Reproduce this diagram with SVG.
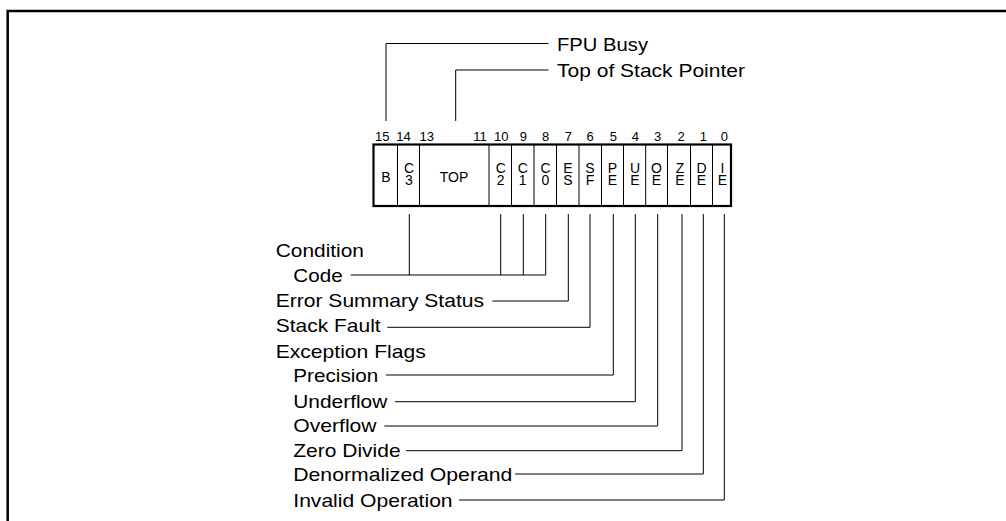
<svg xmlns="http://www.w3.org/2000/svg" width="1006" height="521" viewBox="0 0 1006 521">
<style>
text { font-family: "Liberation Sans", Arial, sans-serif; fill: #000; }
.lbl { font-size: 19px; }
.bit { font-size: 13px; text-anchor: middle; }
.cell { font-size: 14px; text-anchor: middle; }
.wire { fill: none; stroke: #000; stroke-width: 1; }
.div { stroke: #000; stroke-width: 1; }
</style>
<rect width="1006" height="521" fill="#fff"/>
<path d="M7.7,521 V11 H1006" fill="none" stroke="#000" stroke-width="2.5"/>

<g id="register">
  <rect x="373.5" y="144.5" width="357.5" height="61.5" fill="#fff" stroke="#000" stroke-width="2.2"/>
  <g class="div">
    <line x1="397.5" y1="144.5" x2="397.5" y2="206"/>
    <line x1="419.5" y1="144.5" x2="419.5" y2="206"/>
    <line x1="489" y1="144.5" x2="489" y2="206"/>
    <line x1="511.5" y1="144.5" x2="511.5" y2="206"/>
    <line x1="534" y1="144.5" x2="534" y2="206"/>
    <line x1="556.5" y1="144.5" x2="556.5" y2="206"/>
    <line x1="579" y1="144.5" x2="579" y2="206"/>
    <line x1="601.5" y1="144.5" x2="601.5" y2="206"/>
    <line x1="623.5" y1="144.5" x2="623.5" y2="206"/>
    <line x1="645.7" y1="144.5" x2="645.7" y2="206"/>
    <line x1="667.5" y1="144.5" x2="667.5" y2="206"/>
    <line x1="690.5" y1="144.5" x2="690.5" y2="206"/>
    <line x1="712.5" y1="144.5" x2="712.5" y2="206"/>
  </g>
  <g class="cell">
    <text x="386" y="182">B</text>
    <text x="409" y="172.5">C<tspan x="409" dy="12.5">3</tspan></text>
    <text x="454" y="182">TOP</text>
    <text x="500.7" y="172.5">C<tspan x="500.7" dy="12.5">2</tspan></text>
    <text x="522.7" y="172.5">C<tspan x="522.7" dy="12.5">1</tspan></text>
    <text x="545.5" y="172.5">C<tspan x="545.5" dy="12.5">0</tspan></text>
    <text x="568" y="172.5">E<tspan x="568" dy="12.5">S</tspan></text>
    <text x="590" y="172.5">S<tspan x="590" dy="12.5">F</tspan></text>
    <text x="612.5" y="172.5">P<tspan x="612.5" dy="12.5">E</tspan></text>
    <text x="635" y="172.5">U<tspan x="635" dy="12.5">E</tspan></text>
    <text x="656.5" y="172.5">O<tspan x="656.5" dy="12.5">E</tspan></text>
    <text x="680" y="172.5">Z<tspan x="680" dy="12.5">E</tspan></text>
    <text x="701.5" y="172.5">D<tspan x="701.5" dy="12.5">E</tspan></text>
    <text x="722.5" y="172.5">I<tspan x="722.5" dy="12.5">E</tspan></text>
  </g>
</g>

<g id="bit-numbers" class="bit">
  <text x="382.3" y="141">15</text>
  <text x="403.5" y="141">14</text>
  <text x="426.7" y="141">13</text>
  <text x="480" y="141">11</text>
  <text x="501.3" y="141">10</text>
  <text x="523.3" y="141">9</text>
  <text x="545.7" y="141">8</text>
  <text x="568.3" y="141">7</text>
  <text x="590" y="141">6</text>
  <text x="613.3" y="141">5</text>
  <text x="635.3" y="141">4</text>
  <text x="657.7" y="141">3</text>
  <text x="681" y="141">2</text>
  <text x="703.3" y="141">1</text>
  <text x="724.3" y="141">0</text>
</g>

<g id="connectors" class="wire">
  <path d="M386,121 V43.5 H548.5"/>
  <path d="M455.7,121 V70 H548.5"/>
  <path d="M350.7,275 H545.7 V214"/>
  <path d="M409.3,214 V275"/>
  <path d="M500.7,214 V275"/>
  <path d="M523.3,214 V275"/>
  <path d="M492.3,301 H568.3 V214"/>
  <path d="M387.3,327.3 H590 V214"/>
  <path d="M386,375 H613.3 V214"/>
  <path d="M395,401.7 H635.3 V214"/>
  <path d="M384.3,426 H657.7 V214"/>
  <path d="M406,450.7 H682 V214"/>
  <path d="M515,474 H703.3 V214"/>
  <path d="M459,500 H724.3 V214"/>
</g>

<g id="label-fpu-busy" class="lbl"><text x="557" y="51" textLength="91" lengthAdjust="spacingAndGlyphs">FPU Busy</text></g>
<g id="label-top-of-stack" class="lbl"><text x="557" y="77" textLength="188" lengthAdjust="spacingAndGlyphs">Top of Stack Pointer</text></g>
<g id="label-condition-code" class="lbl">
  <text x="275.7" y="257" textLength="88.3" lengthAdjust="spacingAndGlyphs">Condition</text>
  <text x="293.3" y="282" textLength="49.3" lengthAdjust="spacingAndGlyphs">Code</text>
</g>
<g id="label-error-summary" class="lbl"><text x="275.7" y="307" textLength="208.3" lengthAdjust="spacingAndGlyphs">Error Summary Status</text></g>
<g id="label-stack-fault" class="lbl"><text x="275.7" y="332" textLength="105" lengthAdjust="spacingAndGlyphs">Stack Fault</text></g>
<g id="label-exception-flags" class="lbl"><text x="275.7" y="357.5" textLength="150" lengthAdjust="spacingAndGlyphs">Exception Flags</text></g>
<g id="label-precision" class="lbl"><text x="293.3" y="382" textLength="85" lengthAdjust="spacingAndGlyphs">Precision</text></g>
<g id="label-underflow" class="lbl"><text x="293.3" y="407.5" textLength="94" lengthAdjust="spacingAndGlyphs">Underflow</text></g>
<g id="label-overflow" class="lbl"><text x="293.3" y="432" textLength="83.3" lengthAdjust="spacingAndGlyphs">Overflow</text></g>
<g id="label-zero-divide" class="lbl"><text x="293.3" y="457" textLength="107.3" lengthAdjust="spacingAndGlyphs">Zero Divide</text></g>
<g id="label-denormalized" class="lbl"><text x="293.3" y="481" textLength="219" lengthAdjust="spacingAndGlyphs">Denormalized Operand</text></g>
<g id="label-invalid" class="lbl"><text x="293.3" y="506.5" textLength="159.3" lengthAdjust="spacingAndGlyphs">Invalid Operation</text></g>
</svg>
